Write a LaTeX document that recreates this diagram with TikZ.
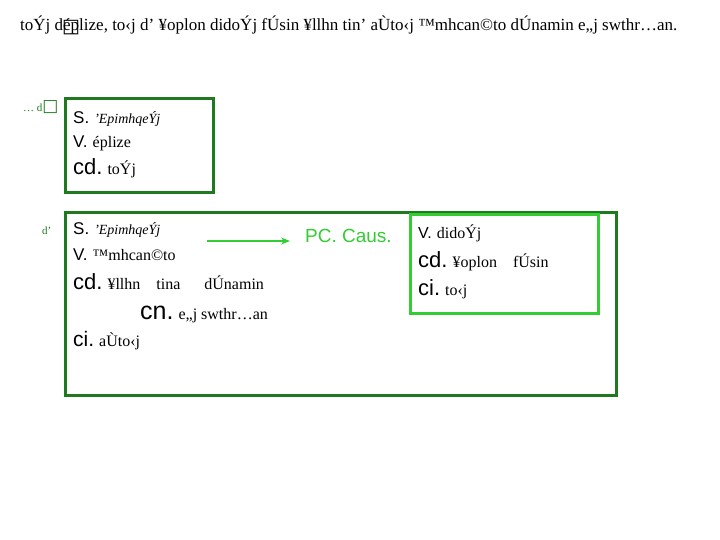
\documentclass[tikz,border=0pt]{standalone}
\usepackage{fontspec}
\setmainfont{Liberation Serif}
\setsansfont{Liberation Sans}
\newfontfamily\symfont{DejaVu Sans}
\usetikzlibrary{arrows.meta,positioning}
\definecolor{darkgreen}{HTML}{1F7A1F}
\definecolor{litegreen}{HTML}{33CC33}
\newcommand\tg[2]{{\sffamily\fontsize{#1}{#1}\selectfont #2}\hspace{5pt}}
\newcommand\gk[1]{{\fontsize{16}{16}\selectfont #1}}
\newcommand\nm[1]{{\fontsize{14}{14}\selectfont\itshape #1}}
\tikzset{
  frame/.style={draw=darkgreen, line width=3pt},
  inframe/.style={draw=litegreen, line width=3pt},
  row/.style={anchor=base west, inner sep=0pt},
  side/.style={row, text=darkgreen, font=\fontsize{11}{11}\selectfont},
  flow/.style={-{Stealth[length=9pt,width=7pt]}, draw=litegreen, line width=2pt},
}
\begin{document}
\begin{tikzpicture}[x=1pt,y=-1pt]
\useasboundingbox (0,0) rectangle (720,540);
% heading line
\node[row, font=\fontsize{17}{17}\selectfont] (title) at (20,31)
 {toÝj d\rlap{\kern-1pt\raisebox{-1.5pt}{\fontsize{19}{19}\symfont □}}éplize, to‹j d' ¥oplon didoÝj fÚsin ¥llhn tin' aÙto‹j ™mhcan©to dÚnamin e„j swthr…an.};
% first frame
\draw[frame] (65,99) rectangle (213,193);
\node[side] (d1) at (23,112) {… d{\fontsize{17}{17}\symfont □}};
\node[row] (s1) at (73,124) {\tg{17}{S.}\nm{'EpimhqeÝj}};
\node[row] (v1) at (73,148) {\tg{17}{V.}\gk{éplize}};
\node[row] (c1) at (73,175) {\tg{22}{cd.}\gk{toÝj}};
% second frame
\draw[frame] (65,213) rectangle (616,395);
\node[side] (d2) at (42,235) {d'};
\node[row] (s2) at (73,235) {\tg{17}{S.}\nm{'EpimhqeÝj}};
\node[row] (v2) at (73,260) {\tg{17}{V.}\gk{™mhcan©to}};
\node[row] (c2) at (73,289) {\tg{22}{cd.}\gk{¥llhn\quad tina\quad\enspace dÚnamin}};
\node[row] (n2) at (140,319) {\tg{25}{cn.}\gk{e„j swthr…an}};
\node[row] (i2) at (73,346) {\tg{21}{ci.}\gk{aÙto‹j}};
% arrow to the causative
\coordinate (from) at (207,241);
\node[row, text=litegreen, font=\sffamily\fontsize{19}{19}\selectfont] (pc) at (305,242) {PC. Caus.};
\coordinate (to) at (290,241);
\draw[flow] (from) -- (to);
% inner frame
\draw[inframe] (410,215) rectangle (598,313);
\node[row] (v3) at (418,238) {\tg{16}{V.}\gk{didoÝj}};
\node[row] (c3) at (418,267) {\tg{22}{cd.}\gk{¥oplon\quad fÚsin}};
\node[row] (i3) at (418,295) {\tg{22}{ci.}\gk{to‹j}};
\end{tikzpicture}
\end{document}
